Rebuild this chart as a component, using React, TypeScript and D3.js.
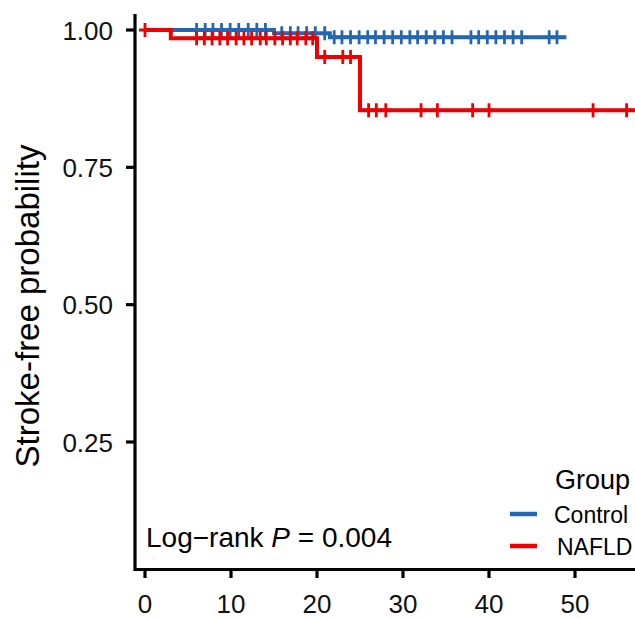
import { useEffect, useRef } from 'react';
import * as d3 from 'd3';

// step points of the two Kaplan-Meier curves (time, survival)
const controlTimes = [0, 15, 21.5, 49];
const controlSurv = [1, 0.994, 0.987, 0.987];
const nafldTimes = [0, 3, 20, 25, 57];
const nafldSurv = [1, 0.985, 0.951, 0.854, 0.854];

// censored observations
const controlCensor = [
  6.0, 7.0, 7.9, 8.9, 9.9, 10.9, 12.0, 13.0, 14.0, 15.9, 16.9, 17.8, 18.8, 19.8, 20.9,
  22.0, 22.9, 23.9, 24.9, 25.9, 26.8, 27.8, 28.8, 29.8, 30.8, 31.7, 32.7, 33.7, 34.7,
  35.7, 37.9, 38.8, 39.8, 40.8, 41.8, 42.8, 43.8, 47.0, 47.9,
];
const nafldCensor = [
  0, 6.0, 6.9, 7.8, 8.7, 9.6, 10.6, 11.5, 12.4, 13.4, 14.1, 15.1, 16.0, 16.9, 17.7, 18.7,
  19.5, 20.9, 23.0, 23.9, 26.0, 26.9, 28.0, 32.1, 34.0, 38.1, 40.0, 52.1, 56.0,
];

const xTicks = [0, 10, 20, 30, 40, 50];
const yTicks = [0.25, 0.5, 0.75, 1.0];
const groups = ['Control', 'NAFLD'];
const colors = ['#2467b0', '#ee0000'];

const font = '"Liberation Sans", Arial, sans-serif';

function App() {
  const svgRef = useRef<SVGSVGElement>(null);

  useEffect(() => {
    const svg = d3.select(svgRef.current);
    svg.selectAll('*').remove();

    const x = d3.scaleLinear().domain([0, 50]).range([145, 575]);
    const y = d3.scaleLinear().domain([0.25, 1]).range([442, 30]);

    const series = [
      { times: controlTimes, surv: controlSurv, censor: controlCensor },
      { times: nafldTimes, surv: nafldSurv, censor: nafldCensor },
    ];

    const line = d3
      .line<[number, number]>()
      .x((d) => x(d[0]))
      .y((d) => y(d[1]))
      .curve(d3.curveStepAfter);

    const stepAt = (times: number[], surv: number[], t: number) => {
      const i = d3.bisectRight(times, t) - 1;
      return surv[Math.max(0, i)];
    };

    series.forEach((s, k) => {
      const pts = s.times.map((t, i) => [t, s.surv[i]] as [number, number]);
      svg
        .append('path')
        .attr('d', line(pts))
        .attr('fill', 'none')
        .attr('stroke', colors[k])
        .attr('stroke-width', 4);

      svg
        .append('g')
        .selectAll('path')
        .data(s.censor)
        .enter()
        .append('path')
        .attr('d', (t) => {
          const cx = x(t);
          const cy = y(stepAt(s.times, s.surv, t));
          return `M${cx - 6},${cy}H${cx + 6}M${cx},${cy - 7}V${cy + 7}`;
        })
        .attr('stroke', colors[k])
        .attr('stroke-width', 2.8)
        .attr('fill', 'none');
    });

    // axes
    const axis = svg.append('g').attr('stroke', '#000').attr('stroke-width', 3.2);
    axis.append('path').attr('d', 'M135,14V569.5H635').attr('fill', 'none');
    axis
      .selectAll('.xt')
      .data(xTicks)
      .enter()
      .append('line')
      .attr('x1', (d) => x(d))
      .attr('x2', (d) => x(d))
      .attr('y1', 569)
      .attr('y2', 578);
    axis
      .selectAll('.yt')
      .data(yTicks)
      .enter()
      .append('line')
      .attr('x1', 126)
      .attr('x2', 135)
      .attr('y1', (d) => y(d))
      .attr('y2', (d) => y(d));

    svg
      .append('g')
      .selectAll('text')
      .data(xTicks)
      .enter()
      .append('text')
      .attr('x', (d) => x(d))
      .attr('y', 613)
      .attr('text-anchor', 'middle')
      .attr('font-family', font)
      .attr('font-size', 26)
      .attr('fill', '#111')
      .text((d) => d);

    svg
      .append('g')
      .selectAll('text')
      .data(yTicks)
      .enter()
      .append('text')
      .attr('x', 113)
      .attr('y', (d) => y(d) + 9.5)
      .attr('text-anchor', 'end')
      .attr('font-family', font)
      .attr('font-size', 26)
      .attr('fill', '#111')
      .text((d) => d3.format('.2f')(d));

    svg
      .append('text')
      .attr('transform', 'translate(39,306) rotate(-90)')
      .attr('text-anchor', 'middle')
      .attr('font-family', font)
      .attr('font-size', 33)
      .text('Stroke-free probability');

    const pv = svg
      .append('text')
      .attr('x', 146)
      .attr('y', 547)
      .attr('font-family', font)
      .attr('font-size', 28);
    pv.append('tspan').text('Log\u2212rank ');
    pv.append('tspan').attr('font-style', 'italic').text('P');
    pv.append('tspan').text(' = 0.004');

    // legend
    svg
      .append('text')
      .attr('x', 555)
      .attr('y', 489)
      .attr('font-family', font)
      .attr('font-size', 27)
      .text('Group');
    const ly = [514, 546];
    groups.forEach((g, i) => {
      svg
        .append('line')
        .attr('x1', 510)
        .attr('x2', 537)
        .attr('y1', ly[i])
        .attr('y2', ly[i])
        .attr('stroke', colors[i])
        .attr('stroke-width', 4.5);
      svg
        .append('text')
        .attr('x', i === 0 ? 554 : 557)
        .attr('y', ly[i] + 9)
        .attr('font-family', font)
        .attr('font-size', 23)
        .text(g);
    });
  }, []);

  return (
    <svg
      ref={svgRef}
      width={635}
      height={618}
      style={{ position: 'absolute', left: 0, top: 0, background: '#fff' }}
    />
  );
}

export default App;
